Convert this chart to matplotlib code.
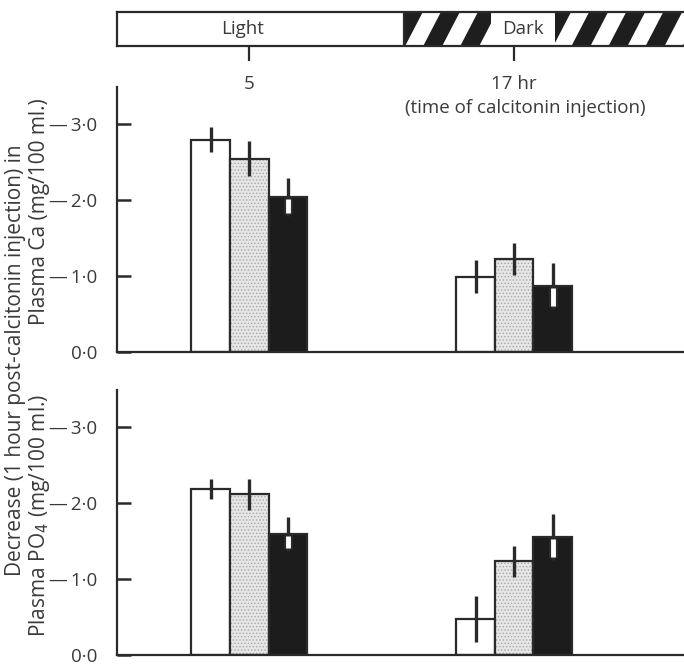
import numpy as np
import matplotlib
matplotlib.use("Agg")
import matplotlib.pyplot as plt
from matplotlib.patches import Rectangle, Polygon

plt.rcParams['font.family'] = ['Open Sans', 'DejaVu Sans']
plt.rcParams['hatch.linewidth'] = 0.6

# injection times (hr) and the three bar groups at each time
times = [5, 17]
ca_mean = {'white': [2.79, 0.99], 'dotted': [2.54, 1.22], 'black': [2.04, 0.87]}
ca_err = {'white': [0.16, 0.22], 'dotted': [0.23, 0.21], 'black': [0.25, 0.30]}
po4_mean = {'white': [2.18, 0.47], 'dotted': [2.11, 1.23], 'black': [1.59, 1.55]}
po4_err = {'white': [0.13, 0.30], 'dotted': [0.20, 0.20], 'black': [0.22, 0.30]}
ytick_vals = [0, 1, 2, 3]
ytick_labels = ['0\u00b70', '\u2014\u20091\u00b70', '\u2014\u20092\u00b70',
                '\u2014\u20093\u00b70']

txt = '#3a3a3a'
line = '#2a2a2a'
fills = {'white': 'white', 'dotted': '#e6e6e6', 'black': '#1c1c1c'}
offsets = {'white': -1.75, 'dotted': 0.0, 'black': 1.75}
bw = 1.75
xmin, xmax = -1.0, 24.7

W, H = 684, 665
fig = plt.figure(figsize=(W / 100, H / 100), dpi=100)

def box(x0, y0, x1, y1):
    return [x0 / W, 1 - y1 / H, (x1 - x0) / W, (y1 - y0) / H]

def panel(rect, means, errs):
    ax = fig.add_axes(rect)
    t = np.array(times, dtype=float)
    for k in ['white', 'dotted', 'black']:
        xs = t + offsets[k]
        if k == 'dotted':
            # stipple texture under the outline
            ax.bar(xs, means[k], width=bw, color=fills[k], edgecolor='#a8a8a8',
                   linewidth=0, hatch='.....', zorder=2)
            ax.bar(xs, means[k], width=bw, color='none', edgecolor=line,
                   linewidth=1.6, zorder=2)
        else:
            ax.bar(xs, means[k], width=bw, color=fills[k], edgecolor=line,
                   linewidth=1.6, zorder=2)
        ax.errorbar(xs, means[k], yerr=errs[k], fmt='none', ecolor=line,
                    elinewidth=2.4, capsize=0, zorder=3)
        if k == 'black':
            # lower half of the bar's error shown as an open white slot
            for x, m, e in zip(xs, means[k], errs[k]):
                ax.plot([x, x], [m - 0.02, m - e + 0.02], color=line,
                        lw=6.5, solid_capstyle='butt', zorder=4)
                ax.plot([x, x], [m - 0.03, m - e + 0.04], color='white',
                        lw=3.5, solid_capstyle='butt', zorder=5)
    ax.set_xlim(xmin, xmax)
    ax.set_ylim(0, 3.48)
    for s in ['top', 'right']:
        ax.spines[s].set_visible(False)
    for s in ['left', 'bottom']:
        ax.spines[s].set_linewidth(1.6)
        ax.spines[s].set_color(line)
    ax.set_xticks([])
    ax.set_yticks(ytick_vals)
    ax.set_yticklabels(ytick_labels, fontsize=13.5, color=txt)
    ax.tick_params(axis='y', which='major', left=True, direction='in',
                   length=10, width=1.8, color=line, pad=14)
    return ax

ax1 = panel(box(117, 87, 684, 352), ca_mean, ca_err)
ax2 = panel(box(117, 390, 684, 655), po4_mean, po4_err)

# light/dark timeline bar
axt = fig.add_axes(box(117, 12, 684, 46))
axt.set_xlim(xmin, xmax)
axt.set_ylim(0, 1)
axt.add_patch(Rectangle((xmin, 0), 12 - xmin, 1, facecolor='white',
                        edgecolor='none'))
clip = Rectangle((12, 0), xmax - 12, 1, transform=axt.transData,
                 facecolor='none', edgecolor='none')
axt.add_patch(clip)
period, band, slant = 1.68, 0.86, 0.8
x0 = 12 - slant
while x0 < xmax + 1:
    p = Polygon([(x0, 0), (x0 + band, 0), (x0 + band + slant, 1), (x0 + slant, 1)],
                closed=True, facecolor='#1e1e1e', edgecolor='none', zorder=1)
    axt.add_patch(p)
    p.set_clip_path(clip)
    x0 += period
axt.axvline(12, color=line, lw=1.6)
axt.text(4.7, 0.5, 'Light', ha='center', va='center', fontsize=13.5, color=txt)
axt.text(17.4, 0.5, 'Dark', ha='center', va='center', fontsize=13.5, color=txt,
         zorder=2, clip_on=True,
         bbox=dict(facecolor='white', edgecolor='none', pad=8))
for s in ['top', 'bottom', 'left']:
    axt.spines[s].set_linewidth(1.6)
    axt.spines[s].set_color(line)
    axt.spines[s].set_zorder(3)
axt.spines['right'].set_visible(False)
axt.set_yticks([])
axt.set_xticks(times)
axt.set_xticklabels(['5', '17 hr'], fontsize=13.5, color=txt)
axt.tick_params(axis='x', length=11, width=1.6, color=line, pad=10)
axt.xaxis.set_zorder(3)
fig.text(525 / W, 1 - 108 / H, '(time of calcitonin injection)', ha='center',
         va='center', fontsize=13.5, color=txt)

# y labels
fig.text(16 / W, 1 - 360 / H, 'Decrease (1 hour post-calcitonin injection) in',
         rotation=90, ha='center', va='center', fontsize=15, color=txt)
fig.text(40 / W, 1 - 212 / H, 'Plasma Ca (mg/100 ml.)', rotation=90,
         ha='center', va='center', fontsize=15, color=txt)
fig.text(40 / W, 1 - 515 / H, 'Plasma PO$_4$ (mg/100 ml.)', rotation=90,
         ha='center', va='center', fontsize=15, color=txt)

fig.savefig('out.png', dpi=100)
